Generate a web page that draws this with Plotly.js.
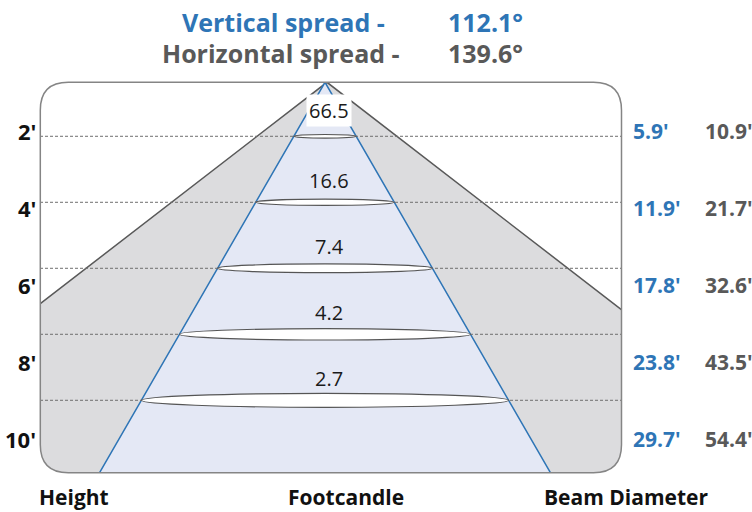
<!DOCTYPE html>
<html><head><meta charset="utf-8">
<script src="https://cdn.plot.ly/plotly-3.0.1.min.js"></script>
<style>html,body{margin:0;padding:0;background:#fff}</style>
</head><body><div id="chart" style="width:752px;height:512px"></div>
<script>
// ---------------- data ----------------
const heights = [2, 4, 6, 8, 10];
const heightLabels = ["2'", "4'", "6'", "8'", "10'"];
const footcandles = [66.5, 16.6, 7.4, 4.2, 2.7];
const verticalDiameter = [5.9, 11.9, 17.8, 23.8, 29.7];
const horizontalDiameter = [10.9, 21.7, 32.6, 43.5, 54.4];
const verticalSpread = 112.1;
const horizontalSpread = 139.6;

// ---------------- layout geometry (not data) ----------------
const W = 752, H = 512;
const Y_RANGE = [13.385, -2.130];   // feet below fixture, reversed
const XH_RANGE = [-21.87, 28.43];   // feet, horizontal-spread scale (xaxis, underneath)
const XV_RANGE = [-26.64, 35.00];   // feet, vertical-spread scale (xaxis2, on top)
const APEX_H = 0.364;               // fixture point drawn on top of frame
const FRAME = {l: 40.3, r: 621.5, t: 82.3, b: 472.7, rad: 28};

const BLUE = '#2E75B6', GREY_TXT = '#595959';
const FONT = '"Open Sans", "Noto Sans", sans-serif';

// least-squares cone slope (half diameter per foot from apex)
function coneSlope(diams) {
  let num = 0, den = 0;
  heights.forEach((h, i) => { const t = h - APEX_H; num += diams[i] / 2 * t; den += t * t; });
  return num / den;
}
const kV = coneSlope(verticalDiameter);
const kH = coneSlope(horizontalDiameter);
const hBottom = Y_RANGE[0];
const tB = hBottom - APEX_H;

const traces = [
  {x: [0, -kH * tB, kH * tB], y: [APEX_H, hBottom, hBottom], xaxis: 'x', yaxis: 'y',
   mode: 'lines', fill: 'toself', fillcolor: '#DCDCDE', line: {width: 0}, hoverinfo: 'skip'},
  {x: [-kH * tB, 0, kH * tB], y: [hBottom, APEX_H, hBottom], xaxis: 'x', yaxis: 'y',
   mode: 'lines', line: {color: '#595959', width: 1.5}, hoverinfo: 'skip'},
  {x: [0, -kV * tB, kV * tB], y: [APEX_H, hBottom, hBottom], xaxis: 'x2', yaxis: 'y',
   mode: 'lines', fill: 'toself', fillcolor: '#E4E8F5', line: {width: 0}, hoverinfo: 'skip'},
  {x: [-kV * tB, 0, kV * tB], y: [hBottom, APEX_H, hBottom], xaxis: 'x2', yaxis: 'y',
   mode: 'lines', line: {color: BLUE, width: 1.5}, hoverinfo: 'skip'}
];

// pixel -> paper helpers for frame decoration
const fx = px => px / W, fy = py => 1 - py / H;
function roundedRectPath(f) {
  const r = f.rad;
  const P = (x, y) => fx(x).toFixed(5) + ',' + fy(y).toFixed(5);
  return 'M' + P(f.l + r, f.t) + ' L' + P(f.r - r, f.t) + ' Q' + P(f.r, f.t) + ' ' + P(f.r, f.t + r) +
    ' L' + P(f.r, f.b - r) + ' Q' + P(f.r, f.b) + ' ' + P(f.r - r, f.b) +
    ' L' + P(f.l + r, f.b) + ' Q' + P(f.l, f.b) + ' ' + P(f.l, f.b - r) +
    ' L' + P(f.l, f.t + r) + ' Q' + P(f.l, f.t) + ' ' + P(f.l + r, f.t) + ' Z';
}

const pxPerFtY = H / (Y_RANGE[0] - Y_RANGE[1]);
const pxPerFtX = W / (XV_RANGE[1] - XV_RANGE[0]);

const shapes = [];
heights.forEach(h => shapes.push({type: 'line', layer: 'above', xref: 'paper', yref: 'y',
  x0: 0, x1: 1, y0: h, y1: h, line: {color: '#6E6E6E', width: 1, dash: '3px,2px'}}));
heights.forEach(h => {
  const half = kV * (h - APEX_H);
  const thickPx = 1.5 + 0.034 * (2 * half * pxPerFtX);
  const dy = thickPx / 2 / pxPerFtY;
  shapes.push({type: 'circle', layer: 'above', xref: 'x2', yref: 'y',
    x0: -half, x1: half, y0: h - dy, y1: h + dy,
    fillcolor: '#FFFFFF', line: {color: '#555555', width: 1.2}});
});
shapes.push({type: 'path', layer: 'above', xref: 'paper', yref: 'paper', fillrule: 'evenodd',
  path: 'M0,0 L1,0 L1,1 L0,1 Z ' + roundedRectPath(FRAME), fillcolor: '#FFFFFF', line: {width: 0}});
shapes.push({type: 'path', layer: 'above', xref: 'paper', yref: 'paper',
  path: roundedRectPath(FRAME), line: {color: '#858585', width: 1.5}});

const ann = [];
const txt = (text, x, y, opt) => Object.assign({text, x, y, xref: 'paper', yref: 'paper',
  showarrow: false, xanchor: 'center', yanchor: 'middle'}, opt);

ann.push(txt('<b>Vertical spread -</b>', fx(283.5), fy(22), {font: {family: FONT, size: 25, color: BLUE}}));
ann.push(txt('<b>' + verticalSpread.toFixed(1) + '°</b>', fx(485), fy(22), {font: {family: FONT, size: 25, color: BLUE}}));
ann.push(txt('<b>Horizontal spread -</b>', fx(281), fy(53), {font: {family: FONT, size: 25, color: GREY_TXT}}));
ann.push(txt('<b>' + horizontalSpread.toFixed(1) + '°</b>', fx(485), fy(53), {font: {family: FONT, size: 25, color: GREY_TXT}}));

heights.forEach((h, i) => {
  ann.push({text: footcandles[i].toFixed(1), x: 0, y: h, xref: 'x2', yref: 'y', xshift: 4, yshift: i === 0 ? 26 : 22,
    showarrow: false, xanchor: 'center', yanchor: 'middle',
    font: {family: FONT, size: 20, color: '#1A1A1A'},
    bgcolor: i === 0 ? '#FFFFFF' : 'rgba(0,0,0,0)', borderpad: i === 0 ? 2 : 0});
  const py = 131 + 77 * i;
  ann.push(txt('<b>' + heightLabels[i] + '</b>', fx(38), fy(py), {xanchor: 'right', font: {family: FONT, size: 22, color: '#111111'}}));
  ann.push(txt('<b>' + verticalDiameter[i].toFixed(1) + "'</b>", fx(631), fy(py), {xanchor: 'left', font: {family: FONT, size: 21, color: BLUE}}));
  ann.push(txt('<b>' + horizontalDiameter[i].toFixed(1) + "'</b>", fx(703), fy(py), {xanchor: 'left', font: {family: FONT, size: 21, color: GREY_TXT}}));
});

ann.push(txt('<b>Height</b>', fx(73.5), fy(497), {font: {family: FONT, size: 21, color: '#111111'}}));
ann.push(txt('<b>Footcandle</b>', fx(346), fy(497), {font: {family: FONT, size: 21, color: '#111111'}}));
ann.push(txt('<b>Beam Diameter</b>', fx(625.5), fy(497), {font: {family: FONT, size: 21, color: '#111111'}}));

const layout = {
  width: W, height: H, margin: {l: 0, r: 0, t: 0, b: 0},
  paper_bgcolor: '#FFFFFF', plot_bgcolor: '#FFFFFF', showlegend: false,
  xaxis: {range: XH_RANGE, visible: false, fixedrange: true},
  xaxis2: {range: XV_RANGE, visible: false, overlaying: 'x', fixedrange: true},
  yaxis: {range: Y_RANGE, visible: false, fixedrange: true},
  shapes, annotations: ann
};
Plotly.newPlot('chart', traces, layout, {staticPlot: true, displayModeBar: false});
</script></body></html>
